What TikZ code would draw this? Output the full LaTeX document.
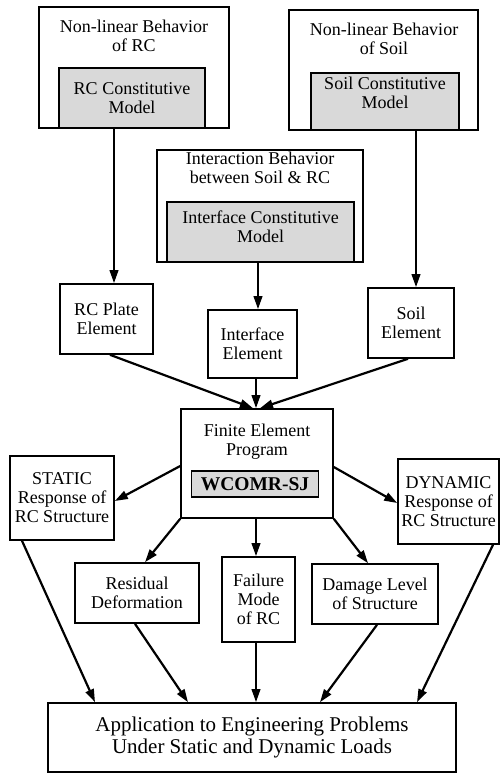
\documentclass[tikz,border=0pt]{standalone}
\usepackage{fontspec}
\setmainfont{Liberation Serif}
\usetikzlibrary{arrows.meta,calc}
\newcommand\fsn{\fontsize{18}{19}\selectfont}
\newcommand\fsb{\fontsize{19.5}{20}\selectfont\bfseries}
\newcommand\fsa{\fontsize{21}{22}\selectfont}
\begin{document}
\begin{tikzpicture}[x=1pt,y=-1pt,
  box/.style={draw, line width=1.6pt, inner sep=0pt, align=center, font=\fsn},
  shadebox/.style={box, fill=gray!30},
  txt/.style={inner sep=0pt, align=center, font=\fsn},
  arr/.style={line width=2.2pt, -{Triangle[length=13pt,width=8.5pt]}}]
\useasboundingbox (0,0) rectangle (501,775);
\fill[white] (0,0) rectangle (501,775);
% top left
\node[box, minimum width=190pt, minimum height=121pt] (rcOuter) at (134,67.5) {};
\node[shadebox, minimum width=146pt, minimum height=60pt] (rcModel) at (132,98) {RC Constitutive\\Model};
\node[txt] (rcTitle) at (134,35.5) {Non-linear Behavior\\of RC};
% top right
\node[box, minimum width=189pt, minimum height=120pt] (soilOuter) at (383.5,70) {};
\node[shadebox, minimum width=148pt, minimum height=57pt] (soilModel) at (385,101.5) {};
\node[txt] (soilModelText) at (385,93) {Soil Constitutive\\Model};
\node[txt] (soilTitle) at (384,38.5) {Non-linear Behavior\\of Soil};
% middle
\node[box, minimum width=206pt, minimum height=112pt] (ifOuter) at (260,206) {};
\node[shadebox, minimum width=187pt, minimum height=60pt] (ifModel) at (260.5,232) {};
\node[txt] (ifModelText) at (260.5,227) {Interface Constitutive\\Model};
\node[txt] (ifTitle) at (260,168) {Interaction Behavior\\between Soil \& RC};
% elements
\node[box, minimum width=93pt, minimum height=70pt] (rcPlate) at (106.5,319) {RC Plate\\Element};
\node[box, minimum width=89pt, minimum height=68pt] (ifElem) at (252.5,344) {Interface\\Element};
\node[box, minimum width=86pt, minimum height=70pt] (soilElem) at (411,323) {Soil\\Element};
% FE program
\node[box, minimum width=152pt, minimum height=109pt] (fe) at (257,463.5) {};
\node[txt] (feTitle) at (257,442) {Finite Element\\Program};
\node[shadebox, minimum width=127pt, minimum height=26pt, font=\fsb] (wcomr) at (255,484) {WCOMR-SJ};
% responses
\node[box, minimum width=104pt, minimum height=84pt] (static) at (62,498) {STATIC\\Response of\\RC Structure};
\node[box, minimum width=101pt, minimum height=85pt] (dynamic) at (448.5,501.5) {DYNAMIC\\Response of\\RC Structure};
\node[box, minimum width=124pt, minimum height=60pt] (residual) at (137,593) {Residual\\Deformation};
\node[box, minimum width=73pt, minimum height=85pt] (failure) at (258.5,599.5) {Failure\\Mode\\of RC};
\node[box, minimum width=126pt, minimum height=60pt] (damage) at (375,594) {Damage Level\\of Structure};
% application
\node[box, minimum width=408pt, minimum height=69pt, font=\fsa] (app) at (252,737.5) {Application to Engineering Problems\\Under Static and Dynamic Loads};
% connectors
\draw[arr] ([xshift=-18pt]rcModel.south) -- ([xshift=7.5pt]rcPlate.north);
\draw[arr] ([xshift=31pt]soilModel.south) -- ([xshift=5pt]soilElem.north);
\draw[arr] ([xshift=-2.5pt]ifModel.south) -- ([xshift=5.5pt]ifElem.north);
\draw[arr] ([xshift=3.5pt]rcPlate.south) -- ([xshift=-4pt]fe.north);
\draw[arr] ([xshift=3.5pt]ifElem.south) -- ([xshift=-1pt]fe.north);
\draw[arr] ([xshift=-3pt]soilElem.south) -- ([xshift=3pt]fe.north);
\draw[arr] ([yshift=-2.5pt]fe.west) -- ([yshift=-3pt]static.east);
\draw[arr] ([yshift=-3.5pt]fe.east) -- ([yshift=-1.5pt]dynamic.west);
\draw[arr] (fe.south west) -- ([xshift=8pt]residual.north);
\draw[arr] ([xshift=-1pt]fe.south) -- ([xshift=-2.5pt]failure.north);
\draw[arr] (fe.south east) -- ([xshift=-7pt]damage.north);
\draw[arr] ([xshift=-40pt]static.south) -- ([xshift=-157pt]app.north);
\draw[arr] ([xshift=-2pt]residual.south) -- ([xshift=-64pt]app.north);
\draw[arr] ([xshift=-2.5pt]failure.south) -- ([xshift=4pt]app.north);
\draw[arr] ([xshift=2pt]damage.south) -- ([xshift=68pt]app.north);
\draw[arr] ([xshift=44.5pt]dynamic.south) -- ([xshift=165pt]app.north);
\end{tikzpicture}
\end{document}
